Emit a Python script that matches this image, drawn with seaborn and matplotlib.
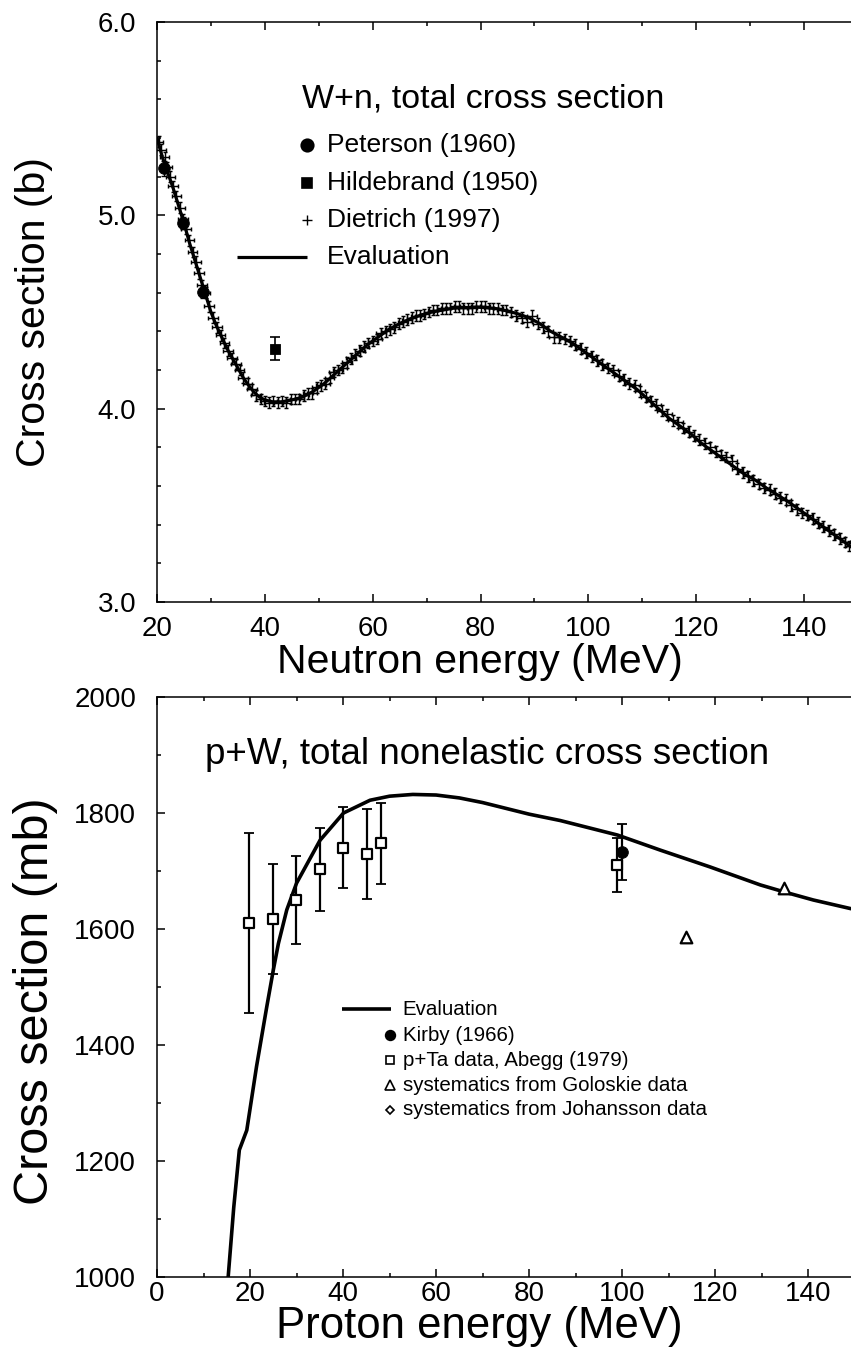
import matplotlib
matplotlib.use("Agg")
import matplotlib.pyplot as plt
from matplotlib.ticker import MultipleLocator, FormatStrFormatter
import seaborn as sns

# ---------------- W+n total cross section (barn) ----------------
eval_n_energy = [20.0, 21.0, 22.0, 23.0, 24.0, 25.0, 26.0, 27.0, 28.0, 29.0,
                 30.0, 31.0, 32.0, 33.0, 34.0, 35.0, 36.0, 37.0, 38.0, 39.0,
                 40.0, 41.5, 43.0, 45.0, 47.0, 49.0, 51.0, 53.0, 55.0, 57.0,
                 59.0, 61.0, 63.0, 65.0, 67.0, 69.0, 71.0, 73.0, 75.0, 77.0,
                 79.0, 81.0, 83.0, 85.0, 87.0, 89.0, 91.0, 93.0, 95.0, 97.0,
                 99.0, 101.0, 103.0, 105.0, 107.0, 109.0, 111.0, 113.0, 115.0,
                 117.0, 119.0, 121.0, 123.0, 125.0, 127.0, 129.0, 131.0, 133.0,
                 135.0, 137.0, 139.0, 141.0, 143.0, 145.0, 147.0, 148.7]
eval_n_xs = [5.40, 5.30, 5.22, 5.14, 5.05, 4.96, 4.86, 4.77, 4.68, 4.59,
             4.50, 4.43, 4.37, 4.31, 4.26, 4.21, 4.16, 4.12, 4.085, 4.06,
             4.045, 4.035, 4.035, 4.045, 4.06, 4.09, 4.13, 4.18, 4.23, 4.28,
             4.33, 4.37, 4.41, 4.44, 4.465, 4.485, 4.50, 4.51, 4.52, 4.523,
             4.525, 4.523, 4.517, 4.505, 4.49, 4.47, 4.44, 4.40, 4.37, 4.34,
             4.30, 4.26, 4.22, 4.18, 4.14, 4.10, 4.05, 4.00, 3.95,
             3.91, 3.87, 3.82, 3.78, 3.74, 3.70, 3.66, 3.63, 3.59,
             3.555, 3.52, 3.48, 3.44, 3.40, 3.36, 3.32, 3.285]

peterson_energy = [21.3, 24.9, 28.6]
peterson_xs = [5.243, 4.96, 4.605]
peterson_err = [0.04, 0.03, 0.03]

hildebrand_energy = [41.9]
hildebrand_xs = [4.31]
hildebrand_err = [0.06]

dietrich_energy = [20.3, 20.8, 21.4, 21.9, 22.5, 23.0, 23.6, 24.2, 24.8, 25.4,
                   26.0, 26.6, 27.2, 27.8, 28.4, 29.0, 29.7, 30.4, 31.1, 31.8,
                   32.5, 33.2, 33.9, 34.6, 35.3, 36.0, 36.8, 37.6, 38.4, 39.2,
                   40.0, 40.8, 41.6, 42.4, 43.2, 44.0, 44.8, 45.6, 46.4, 47.2,
                   48.0, 48.8, 49.6, 50.4, 51.2, 52.0, 52.8, 53.6, 54.4, 55.2,
                   56.0, 56.8, 57.6, 58.4, 59.2, 60.0, 60.8, 61.6, 62.4, 63.2,
                   64.0, 64.8, 65.6, 66.4, 67.2, 68.0, 68.8, 69.6, 70.4, 71.2,
                   72.0, 72.8, 73.6, 74.4, 75.2, 76.0, 76.8, 77.6, 78.4, 79.2,
                   80.0, 80.8, 81.6, 82.4, 83.2, 84.0, 84.8, 85.6, 86.6, 87.6,
                   88.6, 89.6, 90.6, 91.6, 92.6, 93.6, 94.6, 95.6, 96.6, 97.6,
                   98.6, 99.6, 100.6, 101.6, 102.6, 103.6, 104.6, 105.6, 106.6, 107.6,
                   108.6, 109.6, 110.6, 111.6, 112.6, 113.6, 114.6, 115.6, 116.6, 117.6,
                   118.6, 119.6, 120.6, 121.6, 122.6, 123.6, 124.6, 125.6, 126.6, 127.6,
                   128.6, 129.6, 130.6, 131.6, 132.6, 133.6, 134.6, 135.6, 136.6, 137.6,
                   138.6, 139.6, 140.6, 141.6, 142.6, 143.6, 144.6, 145.6, 146.6, 147.6,
                   148.4]
dietrich_xs = [5.38, 5.34, 5.30, 5.25, 5.20, 5.15, 5.10, 5.04, 4.98, 4.93,
               4.87, 4.81, 4.76, 4.70, 4.64, 4.60, 4.53, 4.47, 4.42, 4.38,
               4.34, 4.30, 4.26, 4.23, 4.20, 4.16, 4.13, 4.10, 4.07, 4.05,
               4.04, 4.03, 4.04, 4.03, 4.04, 4.03, 4.05, 4.05, 4.05, 4.07,
               4.08, 4.08, 4.11, 4.12, 4.13, 4.16, 4.19, 4.20, 4.21, 4.24,
               4.26, 4.28, 4.30, 4.32, 4.34, 4.35, 4.36, 4.39, 4.40, 4.41,
               4.42, 4.44, 4.45, 4.46, 4.47, 4.48, 4.48, 4.49, 4.50, 4.51,
               4.51, 4.52, 4.52, 4.52, 4.53, 4.53, 4.52, 4.52, 4.52, 4.53,
               4.53, 4.53, 4.52, 4.52, 4.52, 4.51, 4.51, 4.50, 4.48, 4.47,
               4.45, 4.48, 4.44, 4.42, 4.40, 4.37, 4.37, 4.36, 4.35, 4.33,
               4.31, 4.29, 4.27, 4.25, 4.23, 4.21, 4.20, 4.17, 4.15, 4.13,
               4.12, 4.09, 4.06, 4.04, 4.02, 3.99, 3.97, 3.94, 3.93, 3.90,
               3.88, 3.86, 3.84, 3.82, 3.80, 3.78, 3.76, 3.75, 3.73, 3.69,
               3.67, 3.65, 3.63, 3.61, 3.59, 3.58, 3.56, 3.54, 3.53, 3.50,
               3.48, 3.46, 3.45, 3.43, 3.41, 3.39, 3.37, 3.35, 3.33, 3.31,
               3.29]
dietrich_err = 0.028
dietrich_eerr = 0.9

# ---------------- p+W nonelastic cross section (mb) ----------------
eval_p_energy = [15.3, 16.5, 17.7, 19.3, 21.4, 23.6, 25.0, 26.1, 27.9, 30.0,
                 35.05, 40.1, 45.8, 50.0, 55.0, 60.0, 65.0, 70.0, 75.0, 80.0,
                 86.7, 99.0, 108.2, 118.9, 129.7, 134.8, 141.1, 149.2]
eval_p_xs = [1000, 1120, 1219, 1253, 1363, 1466, 1529, 1575, 1633, 1679,
             1753, 1800, 1822, 1829, 1832, 1831, 1826, 1818, 1808, 1798,
             1787, 1762, 1736, 1707, 1676, 1664, 1650, 1635]

kirby_energy = [99.9]
kirby_xs = [1733]
kirby_err = [48]

abegg_energy = [19.85, 25.0, 29.9, 35.05, 40.06, 45.1, 48.1, 99.0]
abegg_xs = [1611, 1617, 1650, 1703, 1740, 1729, 1748, 1710]
abegg_err = [155, 95, 76, 72, 70, 78, 70, 47]
abegg_eerr = [0, 0, 0, 0, 1.0, 1.0, 1.0, 0]

goloskie_energy = [113.7, 134.8]
goloskie_xs = [1587, 1670]

johansson_energy = []
johansson_xs = []

# ---------------- style ----------------
sns.set_style("ticks")
plt.rcParams["font.family"] = ["Liberation Sans", "DejaVu Sans"]
plt.rcParams["axes.linewidth"] = 1.1
plt.rcParams["axes.edgecolor"] = "black"
plt.rcParams["text.color"] = "black"
plt.rcParams["axes.labelcolor"] = "black"
plt.rcParams["xtick.color"] = "black"
plt.rcParams["ytick.color"] = "black"

fig = plt.figure(figsize=(8.51, 13.61), dpi=100)
ax1 = fig.add_axes([157 / 851, 1 - 602 / 1361, 694 / 851, 580 / 1361])
ax2 = fig.add_axes([157 / 851, 1 - 1277 / 1361, 694 / 851, 580 / 1361])

TICK_FS = 20


def style_axes(ax, xmajor, xminor, ymajor, yminor, yfmt, xpad):
    ax.xaxis.set_major_locator(MultipleLocator(xmajor))
    ax.xaxis.set_minor_locator(MultipleLocator(xminor))
    ax.yaxis.set_major_locator(MultipleLocator(ymajor))
    ax.yaxis.set_minor_locator(MultipleLocator(yminor))
    ax.yaxis.set_major_formatter(FormatStrFormatter(yfmt))
    ax.tick_params(which="both", direction="in", top=True, right=False,
                   width=1.1, colors="black", labelsize=TICK_FS)
    ax.tick_params(which="major", length=5.5)
    ax.tick_params(which="minor", length=3)
    ax.tick_params(axis="y", which="both", pad=15)
    ax.tick_params(axis="x", which="both", pad=xpad)
    ax.spines["right"].set_visible(False)
    for s in ("left", "bottom", "top"):
        ax.spines[s].set_linewidth(1.1)


def key_row(ax, y, text, fs, x_text, marker=None, x_marker=None, ms=8,
            mfc="black", mew=1.2, line=None, lw=2.2):
    if line is not None:
        ax.plot(line, [y, y], transform=ax.transAxes, color="black",
                lw=lw, clip_on=False, solid_capstyle="butt")
    if marker is not None:
        ax.plot([x_marker], [y], transform=ax.transAxes, marker=marker,
                ms=ms, mfc=mfc, mec="black", mew=mew, ls="none", clip_on=False)
    ax.text(x_text, y, text, transform=ax.transAxes, fontsize=fs,
            ha="left", va="center", color="black")


# ---------------- top panel ----------------
ax1.errorbar(dietrich_energy, dietrich_xs, yerr=dietrich_err, xerr=dietrich_eerr,
             fmt="none", ecolor="black", elinewidth=1.05, capsize=1.6,
             capthick=1.05, zorder=2)
sns.lineplot(x=eval_n_energy, y=eval_n_xs, ax=ax1, color="black", lw=2.3,
             estimator=None, sort=False, zorder=3)
ax1.errorbar(peterson_energy, peterson_xs, yerr=peterson_err, fmt="none",
             ecolor="black", elinewidth=1.0, capsize=2.5, zorder=4)
sns.scatterplot(x=peterson_energy, y=peterson_xs, ax=ax1, marker="o", s=70,
                color="black", edgecolor="black", zorder=5)
ax1.errorbar(hildebrand_energy, hildebrand_xs, yerr=hildebrand_err, fmt="none",
             ecolor="black", elinewidth=1.2, capsize=3.5, capthick=1.2, zorder=4)
sns.scatterplot(x=hildebrand_energy, y=hildebrand_xs, ax=ax1, marker="s", s=55,
                color="black", edgecolor="black", zorder=5)

ax1.set_xlim(20, 148.7)
ax1.set_ylim(3.0, 6.0)
style_axes(ax1, 20, 10, 1.0, 0.2, "%.1f", xpad=10)
ax1.set_xlabel("Neutron energy (MeV)", fontsize=29.5, va="center")
ax1.set_ylabel("Cross section (b)", fontsize=29.5)
ax1.xaxis.set_label_coords(0.465, -0.104)
ax1.yaxis.set_label_coords(-0.15, 0.5)

ax1.text(0.209, 0.853, "W+n, total cross section", transform=ax1.transAxes,
         fontsize=24.5, ha="left", va="baseline")
key_row(ax1, 0.788, "Peterson (1960)", 19, 0.245, marker="o", x_marker=0.216, ms=9)
key_row(ax1, 0.722, "Hildebrand (1950)", 19, 0.245, marker="s", x_marker=0.216, ms=7.5)
key_row(ax1, 0.659, "Dietrich (1997)", 19, 0.245, marker="+", x_marker=0.216,
        ms=7, mew=1.0)
key_row(ax1, 0.595, "Evaluation", 19, 0.245, line=[0.115, 0.216], lw=2.3)

# ---------------- bottom panel ----------------
sns.lineplot(x=eval_p_energy, y=eval_p_xs, ax=ax2, color="black", lw=2.6,
             estimator=None, sort=False, zorder=3)
ax2.errorbar(abegg_energy, abegg_xs, yerr=abegg_err, xerr=abegg_eerr, fmt="none",
             ecolor="black", elinewidth=1.6, capsize=3.5, capthick=1.3, zorder=4)
sns.scatterplot(x=abegg_energy, y=abegg_xs, ax=ax2, marker="s", s=62,
                color="white", edgecolor="black", linewidth=1.6, zorder=5)
ax2.errorbar(kirby_energy, kirby_xs, yerr=kirby_err, fmt="none",
             ecolor="black", elinewidth=1.6, capsize=3.5, capthick=1.3, zorder=4)
sns.scatterplot(x=kirby_energy, y=kirby_xs, ax=ax2, marker="o", s=70,
                color="black", edgecolor="black", zorder=6)
sns.scatterplot(x=goloskie_energy, y=goloskie_xs, ax=ax2, marker="^", s=70,
                color="white", edgecolor="black", linewidth=1.6, zorder=5)
if johansson_energy:
    sns.scatterplot(x=johansson_energy, y=johansson_xs, ax=ax2, marker="D", s=30,
                    color="white", edgecolor="black", linewidth=1.2, zorder=5)

ax2.set_xlim(0, 149.2)
ax2.set_ylim(1000, 2000)
style_axes(ax2, 20, 10, 200, 100, "%d", xpad=3)
ax2.set_xlabel("Proton energy (MeV)", fontsize=31.5, va="center")
ax2.set_ylabel("Cross section (mb)", fontsize=35)
ax2.xaxis.set_label_coords(0.465, -0.086)
ax2.yaxis.set_label_coords(-0.142, 0.475)

ax2.text(0.069, 0.90, "p+W, total nonelastic cross section", transform=ax2.transAxes,
         fontsize=26.5, ha="left", va="center")
LEG_FS = 14.8
key_row(ax2, 0.462, "Evaluation", LEG_FS, 0.354, line=[0.267, 0.337], lw=2.6)
key_row(ax2, 0.417, "Kirby (1966)", LEG_FS, 0.354, marker="o", x_marker=0.336, ms=7)
key_row(ax2, 0.374, "p+Ta data, Abegg (1979)", LEG_FS, 0.354, marker="s",
        x_marker=0.336, ms=6, mfc="white")
key_row(ax2, 0.331, "systematics from Goloskie data", LEG_FS, 0.354, marker="^",
        x_marker=0.336, ms=6.5, mfc="white")
key_row(ax2, 0.288, "systematics from Johansson data", LEG_FS, 0.354, marker="D",
        x_marker=0.336, ms=4.5, mfc="white")

fig.savefig("out.png", dpi=100)
